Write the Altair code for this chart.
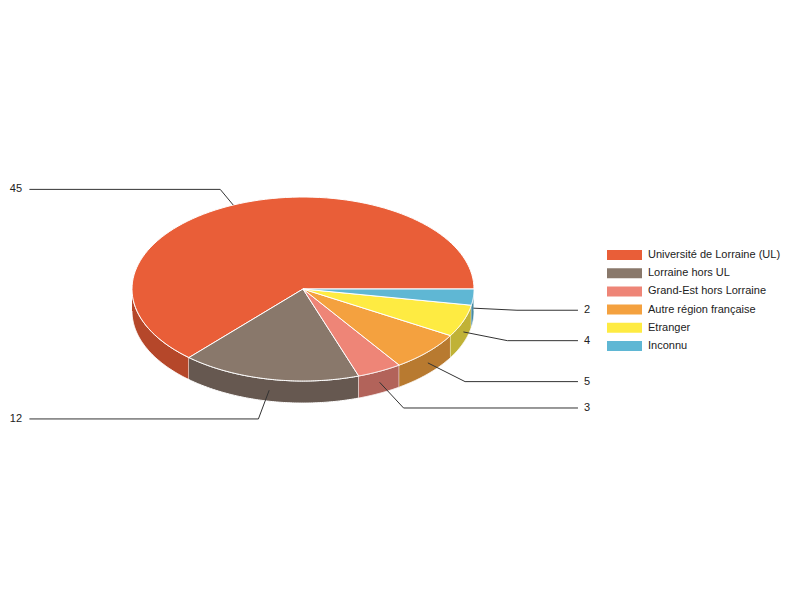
import altair as alt
import pandas as pd

categories = ["Université de Lorraine (UL)", "Lorraine hors UL", "Grand-Est hors Lorraine",
              "Autre région française", "Etranger", "Inconnu"]
values = [45, 12, 3, 5, 4, 2]
top_colors = ["#E95E38", "#89786B", "#EE8577", "#F4A13F", "#FEEB42", "#5FB7D4"]
side_colors = ["#B5472A", "#665850", "#B2635A", "#B87A30", "#C0B236", "#478BA3"]

df = pd.DataFrame({"cat": categories, "value": values, "idx": list(range(len(categories)))})

# geometry (in radius units; 1 unit = 171 px)
RY = 0.538      # vertical squash of the ellipse
D = 0.129       # thickness of the pie
N = 100
LINE_END = 1.60
TEXT_X = 1.643

X = alt.X("px:Q", scale=alt.Scale(domain=[-1.7251, 2.8596], nice=False, zero=False), axis=None)
Y = alt.Y("py:Q", scale=alt.Scale(domain=[-1.6433, 1.7719], nice=False, zero=False, reverse=True), axis=None)

base = (alt.Chart(df)
        .transform_joinaggregate(total="sum(value)")
        .transform_window(cum="sum(value)", sort=[alt.SortField("idx")], frame=[None, 0])
        .transform_calculate(
            a0="2*PI*(datum.cum-datum.value)/datum.total",
            a1="2*PI*datum.cum/datum.total")
        .transform_calculate(am="(datum.a0+datum.a1)/2"))

side = (base
        .transform_filter("datum.a1 > PI")
        .transform_calculate(b0="max(datum.a0, PI)", b1="datum.a1")
        .transform_calculate(s=f"sequence(0,{2*N+2})")
        .transform_flatten(["s"])
        .transform_calculate(
            t=f"datum.s<={N} ? datum.b0+(datum.b1-datum.b0)*datum.s/{N} : datum.b1-(datum.b1-datum.b0)*(datum.s-{N+1})/{N}")
        .transform_calculate(
            px="cos(datum.t)",
            py=f"-{RY}*sin(datum.t) + (datum.s<={N} ? 0 : {D})")
        .mark_line(filled=True, stroke="white", strokeWidth=1, strokeJoin="round")
        .encode(x=X, y=Y, order="s:Q",
                color=alt.Color("cat:N", sort=categories,
                                scale=alt.Scale(domain=categories, range=side_colors), legend=None)))

top = (base
       .transform_calculate(s=f"sequence(0,{N+3})")
       .transform_flatten(["s"])
       .transform_calculate(t=f"datum.a0+(datum.a1-datum.a0)*(datum.s-1)/{N}")
       .transform_calculate(
           px=f"(datum.s==0||datum.s=={N+2}) ? 0 : cos(datum.t)",
           py=f"(datum.s==0||datum.s=={N+2}) ? 0 : -{RY}*sin(datum.t)")
       .mark_line(filled=True, stroke="white", strokeWidth=1, strokeJoin="round")
       .encode(x=X, y=Y, order="s:Q",
               color=alt.Color("cat:N", sort=categories,
                               scale=alt.Scale(domain=categories, range=top_colors),
                               legend=alt.Legend(title=None, orient="none", legendX=611, legendY=241.5,
                                                 symbolType="M-3.5,-1H3.5V1H-3.5Z",
                                                 symbolSize=100, symbolStrokeWidth=0,
                                                 symbolOpacity=1,
                                                 rowPadding=6.2, labelOffset=18, padding=0,
                                                 labelFont="Liberation Sans", labelFontSize=11,
                                                 labelColor="#222", labelLimit=300))))

anchor = base.transform_calculate(
    ax="cos(datum.am)",
    ay=f"-{RY}*sin(datum.am) + (sin(datum.am)<0 ? {D/2} : 0)",
    k="0.25 - 0.07*sin(datum.am)").transform_calculate(
    ex="datum.ax + datum.k*cos(datum.am)",
    ey=f"datum.ay - datum.k*{RY}*sin(datum.am)")

leaders = (anchor
           .transform_calculate(s="sequence(0,3)")
           .transform_flatten(["s"])
           .transform_calculate(
               px=f"datum.s==0 ? datum.ax : (datum.s==1 ? datum.ex : (cos(datum.am)<0 ? -{LINE_END} : {LINE_END+0.008}))",
               py="datum.s==0 ? datum.ay : datum.ey")
           .mark_line(color="#333", strokeWidth=1)
           .encode(x=X, y=Y, order="s:Q", detail="cat:N"))

labels_left = (anchor.transform_filter("cos(datum.am)<0")
               .transform_calculate(px=f"-{TEXT_X}", py="datum.ey")
               .mark_text(align="right", baseline="middle", font="Liberation Sans", fontSize=11, color="#222")
               .encode(x=X, y=Y, text="value:Q"))
labels_right = (anchor.transform_filter("cos(datum.am)>=0")
                .transform_calculate(px=f"{TEXT_X}", py="datum.ey")
                .mark_text(align="left", baseline="middle", font="Liberation Sans", fontSize=11, color="#222")
                .encode(x=X, y=Y, text="value:Q"))

chart = (alt.layer(side, top, leaders, labels_left, labels_right)
         .resolve_scale(color="independent")
         .properties(width=784, height=584, padding=0, background="white")
         .configure_view(stroke=None))

chart.save("out.html", embed_options={"renderer": "svg", "actions": False})
